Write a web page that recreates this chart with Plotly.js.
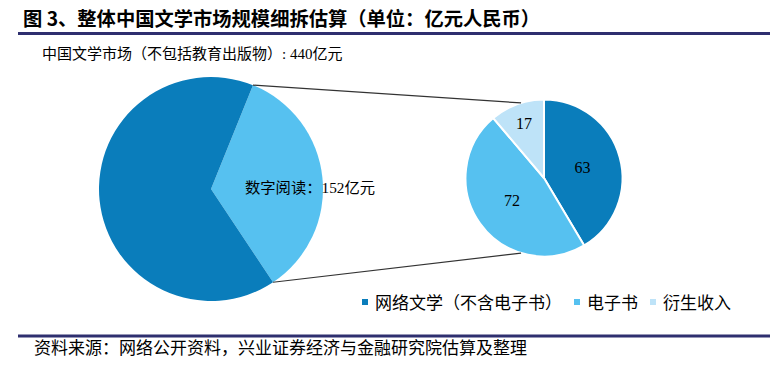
<!DOCTYPE html>
<html><head><meta charset="utf-8">
<script src="https://cdn.plot.ly/plotly-3.0.1.min.js"></script>
<style>html,body{margin:0;padding:0;background:#fff;} #chart{width:777px;height:374px;}</style>
</head><body><div id="chart"></div>
<script>
// ---- data ----
const chartTitle = '图 3、整体中国文学市场规模细拆估算（单位：亿元人民币）';
const marketName = '中国文学市场（不包括教育出版物）';
const sourceNote = '资料来源：网络公开资料，兴业证券经济与金融研究院估算及整理';
const unit = '亿元';
const leftLabels = ['数字阅读', '其他'];
const leftValues = [152, 288];
const rightLabels = ['网络文学（不含电子书）', '电子书', '衍生收入'];
const rightValues = [63, 72, 17];

// ---- layout helpers ----
const W = 777, H = 374;
const px = x => x / W, py = y => 1 - y / H;
const C_DARK = '#0A7DBB', C_MID = '#56C1F0', C_LIGHT = '#BEE3F8', C_NAVY = '#2E2F6F';
const FONT = "'Liberation Serif', 'Noto Sans CJK SC', serif";
const CJK = "'Noto Sans CJK SC', sans-serif";
const Lp = {cx: 211, cy: 189, r: 112, rot: 22};
const Rp = {cx: 544, cy: 178, r: 78.5, rot: 0, join: 17};
const rad = d => d * Math.PI / 180;
const pt = (c, a) => [c.cx + c.r * Math.sin(rad(a)), c.cy - c.r * Math.cos(rad(a))];
const dom = c => ({x: [px(c.cx - c.r), px(c.cx + c.r)], y: [py(c.cy + c.r), py(c.cy - c.r)]});

const total = leftValues.reduce((a, b) => a + b, 0);
const a0 = Lp.rot, a1 = Lp.rot + 360 * leftValues[0] / total;
const lTop = pt(Lp, a0), lBot = pt(Lp, a1);
const rTop = pt(Rp, 360 - Rp.join), rBot = pt(Rp, 180 + Rp.join);

const traces = [
  {type: 'pie', values: leftValues, labels: leftLabels, sort: false, direction: 'clockwise',
   rotation: Lp.rot, marker: {colors: [C_MID, C_DARK], line: {width: 0}}, textinfo: 'none',
   hoverinfo: 'label+value', showlegend: false, domain: dom(Lp)},
  {type: 'pie', values: rightValues, labels: rightLabels, sort: false, direction: 'clockwise',
   rotation: Rp.rot, marker: {colors: [C_DARK, C_MID, C_LIGHT], line: {color: '#fff', width: 2}},
   textinfo: 'value', textposition: 'inside', insidetextorientation: 'horizontal',
   textfont: {family: "'Liberation Serif', serif", size: 16, color: '#000'},
   hoverinfo: 'label+value', showlegend: false, domain: dom(Rp)}
];

const line = (x0, y0, x1, y1, color, width) => ({type: 'line', xref: 'paper', yref: 'paper',
  x0: px(x0), y0: py(y0), x1: px(x1), y1: py(y1), line: {color, width}});
const shapes = [
  line(18, 33.5, 770, 33.5, C_NAVY, 3),
  line(18, 336, 770, 336, C_NAVY, 3),
  line(lTop[0], lTop[1], rTop[0], rTop[1], '#333', 1.2),
  line(lBot[0], lBot[1], rBot[0], rBot[1], '#333', 1.2)
];
const ann = (x, y, text, size, family, extra) => Object.assign({xref: 'paper', yref: 'paper',
  x: px(x), y: py(y), text, showarrow: false, xanchor: 'left', yanchor: 'middle',
  font: {size, family, color: '#000'}}, extra || {});
const annotations = [
  ann(21, 18, '<b>' + chartTitle + '</b>', 19.3, CJK),
  ann(40, 54, marketName + ': ' + total + unit, 15, FONT),
  ann(243, 187, leftLabels[0] + '：' + leftValues[0] + unit, 15.3, FONT),
  ann(32, 348, sourceNote, 17, FONT)
];
// custom legend built from the right-pie labels / colours
const legFs = 17, sq = 6;
let lx = 362;
const legColors = [C_DARK, C_MID, C_LIGHT];
rightLabels.forEach((lab, i) => {
  shapes.push({type: 'rect', xref: 'paper', yref: 'paper', x0: px(lx), x1: px(lx + sq),
    y0: py(302 + sq / 2), y1: py(302 - sq / 2), fillcolor: legColors[i], line: {width: 0}});
  annotations.push(ann(lx + 11, 301, lab, legFs, CJK));
  lx += 11 + lab.length * legFs + 14;
});

Plotly.newPlot('chart', traces, {
  width: W, height: H, margin: {l: 0, r: 0, t: 0, b: 0},
  paper_bgcolor: '#fff', plot_bgcolor: '#fff', shapes, annotations, showlegend: false
}, {displayModeBar: false, staticPlot: true});
</script></body></html>
